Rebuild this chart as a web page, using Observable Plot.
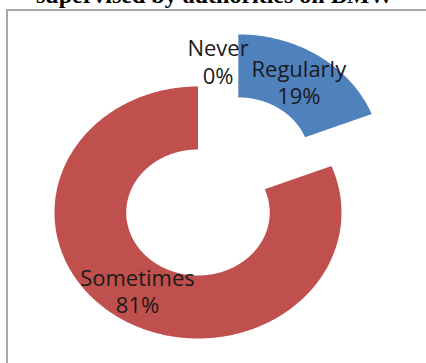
<!DOCTYPE html>
<html>
<head>
<meta charset="utf-8">
<script src="https://cdn.jsdelivr.net/npm/d3@7"></script>
<script src="https://cdn.jsdelivr.net/npm/@observablehq/plot@0.6"></script>
<style>
  html, body { margin: 0; padding: 0; background: #fff; overflow: hidden; }
  #title { position: absolute; left: 36px; top: -18px; line-height: 24px; white-space: nowrap;
           font: bold 24px "Liberation Serif", "Times New Roman", serif; color: #000; }
  #frame { position: absolute; left: 6px; top: 9px; width: 440px; height: 380px;
           border-left: 2px solid #a8a8a8; border-top: 2px solid #a8a8a8; }
  #chart { position: absolute; left: 0; top: 0; }
</style>
</head>
<body>
<div id="title">supervised by authorities on BMW</div>
<div id="frame"></div>
<div id="chart"></div>
<script>
// Data
const categories = ["Regularly", "Sometimes", "Never"];
const values = [19, 81, 0];
const valueLabels = ["19%", "81%", "0%"];
const colors = ["#4F81BD", "#C0504D", "#9BBB59"];
const explodedCategory = "Regularly";

// Geometry settings
const holeRatio = 0.5;
const explodeAmount = 0.5;
const total = d3.sum(values);

let cum = 0;
const slices = categories.map((c, i) => {
  const a0 = cum / total * 2 * Math.PI;
  cum += values[i];
  const a1 = cum / total * 2 * Math.PI;
  const mid = (a0 + a1) / 2;
  const off = c === explodedCategory ? explodeAmount : 0;
  return {category: c, value: values[i], label: valueLabels[i], a0, a1, mid,
          ox: Math.sin(mid) * off, oy: Math.cos(mid) * off};
});

const ringPoints = [];
for (const s of slices) {
  if (s.value <= 0) continue;
  const n = Math.max(4, Math.ceil((s.a1 - s.a0) / (Math.PI / 360)));
  const outer = d3.range(n + 1).map(k => s.a0 + (s.a1 - s.a0) * k / n);
  for (const a of outer) ringPoints.push({category: s.category, x: s.ox + Math.sin(a), y: s.oy + Math.cos(a)});
  for (const a of outer.slice().reverse()) ringPoints.push({category: s.category, x: s.ox + holeRatio * Math.sin(a), y: s.oy + holeRatio * Math.cos(a)});
}

const labelR = (1 + holeRatio) / 2;
const labelsIn = slices.filter(s => s.value > 0).map(s => ({
  text: `${s.category}\n${s.label}`,
  x: s.ox + labelR * Math.sin(s.mid), y: s.oy + labelR * Math.cos(s.mid)
}));
const labelsZero = slices.filter(s => s.value <= 0).map(s => ({
  text: `${s.category}\n${s.label}`,
  x: 1.2 * Math.sin(s.mid), y: 1.2 * Math.cos(s.mid)
}));

const W = 426, H = 363;
const cx = 197.5, cy = 212, rx = 143.5, ry = 126;

const chart = Plot.plot({
  width: W, height: H, margin: 0,
  x: {domain: [-cx / rx, (W - cx) / rx], axis: null},
  y: {domain: [-(H - cy) / ry, cy / ry], axis: null},
  color: {domain: categories, range: colors},
  style: {background: "transparent", overflow: "visible"},
  marks: [
    Plot.line(ringPoints, {x: "x", y: "y", z: "category", fill: "category", stroke: "none", curve: "linear"}),
    Plot.text(labelsIn, {x: "x", y: "y", text: "text", fontSize: 22, lineHeight: 1.23,
      fontFamily: "Open Sans", fill: "#1a1a1a"}),
    Plot.text(labelsZero, {x: "x", y: "y", text: "text", fontSize: 22, lineHeight: 1.23, dx: 20,
      fontFamily: "Open Sans", fill: "#1a1a1a"})
  ]
});
document.getElementById("chart").appendChild(chart);
</script>
</body>
</html>
